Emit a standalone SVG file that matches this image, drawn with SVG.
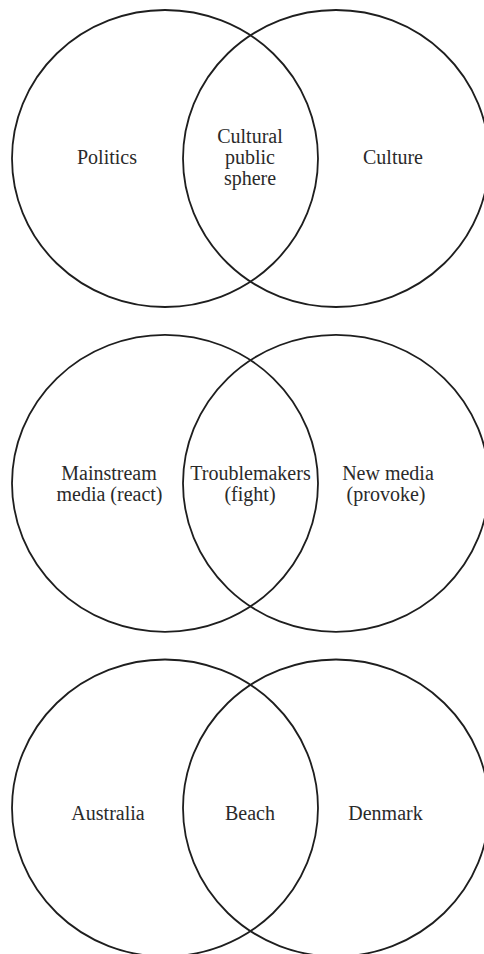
<svg xmlns="http://www.w3.org/2000/svg" width="484" height="954" viewBox="0 0 484 954">
<style>
.c{fill:none;stroke:#1e1e1e;stroke-width:1.8}
.t{font-family:"Liberation Serif","Times New Roman",serif;font-size:20px;fill:#2a2a2a;text-anchor:middle}
</style>
<rect width="484" height="954" fill="#fff"/>
<g id="venn1">
<g id="politics"><ellipse class="c" cx="165" cy="158.5" rx="153" ry="148.5"/><text class="t" x="107" y="164">Politics</text></g>
<g id="culture"><ellipse class="c" cx="336" cy="158.5" rx="153" ry="148.5"/><text class="t" x="393" y="164">Culture</text></g>
<g id="cultural-public-sphere"><text class="t" x="250" y="143">Cultural</text><text class="t" x="250" y="164">public</text><text class="t" x="250" y="185">sphere</text></g>
</g>
<g id="venn2">
<g id="mainstream"><ellipse class="c" cx="165" cy="483.3" rx="153" ry="148.5"/><text class="t" x="109" y="480">Mainstream</text><text class="t" x="109.5" y="501">media (react)</text></g>
<g id="newmedia"><ellipse class="c" cx="336" cy="483.3" rx="153" ry="148.5"/><text class="t" x="388" y="480">New media</text><text class="t" x="386" y="501">(provoke)</text></g>
<g id="troublemakers"><text class="t" x="250.5" y="480">Troublemakers</text><text class="t" x="250" y="501">(fight)</text></g>
</g>
<g id="venn3">
<g id="australia"><ellipse class="c" cx="165" cy="808" rx="153" ry="148.5"/><text class="t" x="108" y="820">Australia</text></g>
<g id="denmark"><ellipse class="c" cx="336" cy="808" rx="153" ry="148.5"/><text class="t" x="385.5" y="820">Denmark</text></g>
<g id="beach"><text class="t" x="250" y="820">Beach</text></g>
</g>
<g id="connectors"/>
</svg>
